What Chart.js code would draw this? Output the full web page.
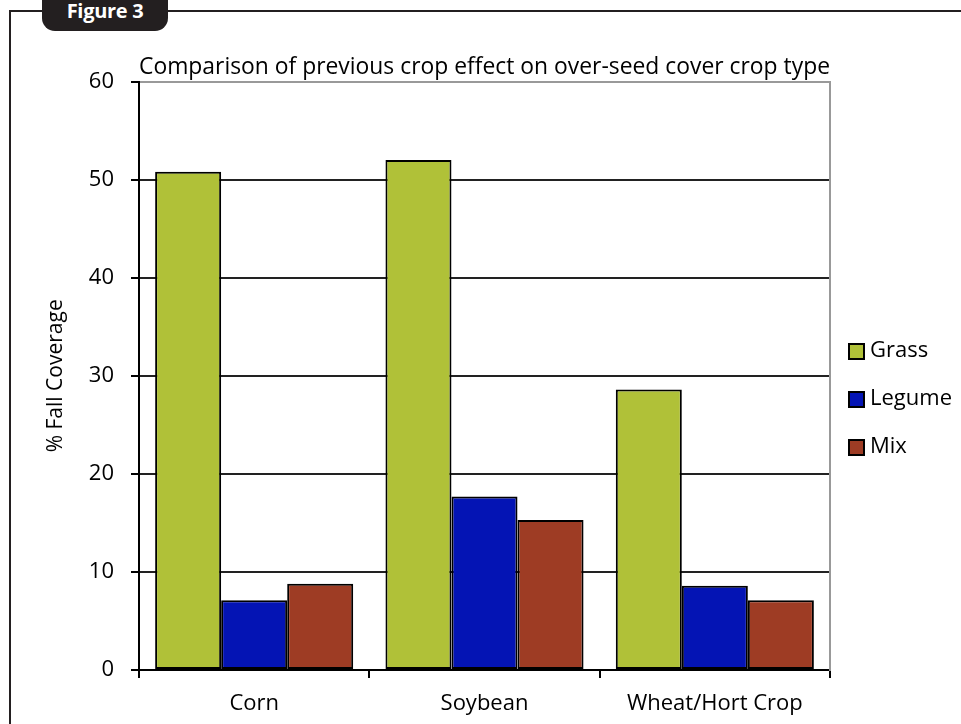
<!DOCTYPE html>
<html>
<head>
<meta charset="utf-8">
<title>Figure 3</title>
<script src="https://cdn.jsdelivr.net/npm/chart.js@4.4.0/dist/chart.umd.min.js"></script>
<style>
    html, body { margin: 0; padding: 0; background: #fff; }
    body { width: 961px; height: 724px; position: relative; overflow: hidden; }
    .frame-left { position: absolute; left: 9px; top: 10px; width: 2px; height: 720px; background: #231f20; }
    .frame-top { position: absolute; left: 9px; top: 10px; right: 0; height: 2px; background: #231f20; }
    .tab { position: absolute; left: 42px; top: -14px; width: 126px; height: 45px; background: #231f20; border-radius: 13px; }
    .tab-label { position: absolute; left: 42px; top: -3px; width: 126px; line-height: 26px; text-align: center;
        color: #fff; font: bold 20px "Open Sans", sans-serif; letter-spacing: -0.3px; }
    #wrap { position: absolute; left: 0; top: 0; width: 961px; height: 724px; }
</style>
</head>
<body>
<div class="frame-left"></div>
<div class="frame-top"></div>
<div class="tab"></div>
<div class="tab-label">Figure 3</div>
<div id="wrap"><canvas id="cropChart"></canvas></div>

<script>
// Chart data
const categories = ['Corn', 'Soybean', 'Wheat/Hort Crop'];
const seriesNames = ['Grass', 'Legume', 'Mix'];
const grass = [50.8, 52.0, 28.6];
const legume = [7.1, 17.7, 8.6];
const mix = [8.8, 15.3, 7.1];
const yMin = 0;
const yMax = 60;
const yStep = 10;

const colors = ['#b0c138', '#0414b4', '#9e3c24'];
const fontFamily = '"Open Sans", sans-serif';

// Legend drawn on the right, next to the plot
const sideLegend = {
    id: 'sideLegend',
    afterDraw(chart) {
        const ctx = chart.ctx;
        const left = chart.chartArea.right + 19;
        const top = 351;
        ctx.save();
        ctx.font = '22px ' + fontFamily;
        ctx.textBaseline = 'middle';
        ctx.textAlign = 'left';
        chart.data.datasets.forEach((ds, i) => {
            const cy = top + i * 48;
            ctx.fillStyle = ds.backgroundColor;
            ctx.fillRect(left, cy - 7, 15, 15);
            ctx.lineWidth = 2;
            ctx.strokeStyle = '#000';
            ctx.strokeRect(left, cy - 7, 15, 15);
            ctx.fillStyle = '#000';
            ctx.fillText(ds.label, left + 21, cy);
        });
        ctx.restore();
    }
};

document.addEventListener('DOMContentLoaded', () => {
    const ctx = document.getElementById('cropChart').getContext('2d');

    new Chart(ctx, {
        type: 'bar',
        data: {
            labels: categories,
            datasets: [
                { label: seriesNames[0], data: grass, backgroundColor: colors[0] },
                { label: seriesNames[1], data: legume, backgroundColor: colors[1] },
                { label: seriesNames[2], data: mix, backgroundColor: colors[2] }
            ]
        },
        options: {
            responsive: true,
            maintainAspectRatio: false,
            animation: false,
            layout: {
                padding: { top: 32, left: 43, right: 131, bottom: 0 }
            },
            datasets: {
                bar: {
                    borderColor: '#000',
                    borderWidth: 2,
                    borderSkipped: false,
                    categoryPercentage: 0.86,
                    barPercentage: 1.0
                }
            },
            plugins: {
                legend: { display: false },
                tooltip: { enabled: false },
                title: {
                    display: true,
                    text: 'Comparison of previous crop effect on over-seed cover crop type',
                    color: '#000',
                    fullSize: false,
                    font: { family: fontFamily, size: 23, weight: 'normal' },
                    padding: { top: 22, bottom: 0 }
                }
            },
            scales: {
                x: {
                    grid: {
                        drawOnChartArea: false,
                        drawTicks: true,
                        tickLength: 8,
                        tickColor: '#000',
                        lineWidth: 2
                    },
                    border: { color: '#000', width: 2 },
                    ticks: {
                        color: '#000',
                        padding: 13,
                        font: { family: fontFamily, size: 22 }
                    },
                    afterFit(scale) { scale.height = 54; }
                },
                y: {
                    min: yMin,
                    max: yMax,
                    ticks: {
                        stepSize: yStep,
                        color: '#000',
                        padding: 17,
                        font: { family: fontFamily, size: 22 }
                    },
                    grid: {
                        color: (c) => (c.tick && c.tick.value === yMax ? '#999' : '#222'),
                        lineWidth: 2,
                        tickLength: 8,
                        tickColor: '#000'
                    },
                    border: { color: '#000', width: 2 },
                    title: {
                        display: true,
                        text: '% Fall Coverage',
                        color: '#000',
                        padding: 0,
                        font: { family: fontFamily, size: 21 }
                    },
                    afterFit(scale) { scale.width = 96; }
                },
                yRight: {
                    position: 'right',
                    min: yMin,
                    max: yMax,
                    grid: { drawOnChartArea: false, drawTicks: false },
                    ticks: { display: false },
                    border: { color: '#999', width: 2 },
                    afterFit(scale) { scale.width = 0; }
                }
            }
        },
        plugins: [sideLegend]
    });
});
</script>
</body>
</html>
